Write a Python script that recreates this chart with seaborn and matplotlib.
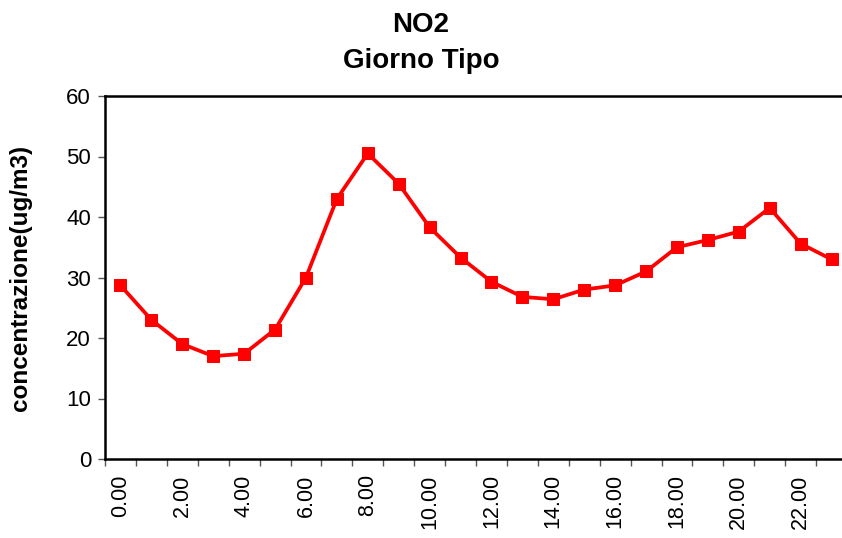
import matplotlib
matplotlib.use("Agg")
import matplotlib.pyplot as plt
import numpy as np
import pandas as pd
import seaborn as sns

ore = [f"{h}.00" for h in range(24)]
no2 = [28.7, 23.0, 19.0, 17.0, 17.4, 21.4, 30.0, 43.0, 50.5, 45.5, 38.3, 33.3,
       29.3, 26.8, 26.4, 28.0, 28.7, 31.0, 35.0, 36.2, 37.6, 41.5, 35.6, 33.0]

sns.set_style("white")
plt.rcParams['font.family'] = ['Liberation Sans', 'DejaVu Sans']
plt.rcParams['text.color'] = 'black'
plt.rcParams['xtick.color'] = 'black'
plt.rcParams['ytick.color'] = 'black'
plt.rcParams['axes.labelcolor'] = 'black'

df = pd.DataFrame({"ora": np.arange(len(ore)), "no2": no2})

fig = plt.figure(figsize=(8.42, 5.38), dpi=100)
ax = fig.add_axes([105/842, 79/538, 742/842, 363/538])

sns.lineplot(data=df, x="ora", y="no2", ax=ax, color="#ff0000", linewidth=2.7,
             marker="s", markersize=9.3, markeredgecolor="#ff0000")

ax.set_xlim(-0.5, 23.5)
ax.set_ylim(0, 60)
ax.set_yticks(range(0, 61, 10))
ax.set_xticks(np.arange(0, 24, 2))
ax.set_xticklabels(ore[::2], rotation=90, fontsize=15.5)
ax.set_xticks(np.arange(-0.5, 24, 1), minor=True)
ax.tick_params(axis="x", which="major", length=0, pad=11)
ax.tick_params(axis="x", which="minor", length=5, width=1, color="#555555", direction="out", bottom=True)
ax.tick_params(axis="y", length=5, width=1, color="#555555", direction="out", left=True,
               labelsize=16, pad=5)

for s in ["left", "bottom", "top"]:
    ax.spines[s].set_color("black")
    ax.spines[s].set_linewidth(1.8)
ax.spines["right"].set_visible(False)

ax.set_xlabel("")
ax.set_ylabel("concentrazione(ug/m3)", fontsize=17.5, fontweight="bold", labelpad=12)
ax.yaxis.set_label_coords(-73/742, 0.5)
fig.suptitle("NO2\nGiorno Tipo", fontsize=20, fontweight="bold", y=0.978, linespacing=1.5)

fig.savefig("out.png", dpi=100)
